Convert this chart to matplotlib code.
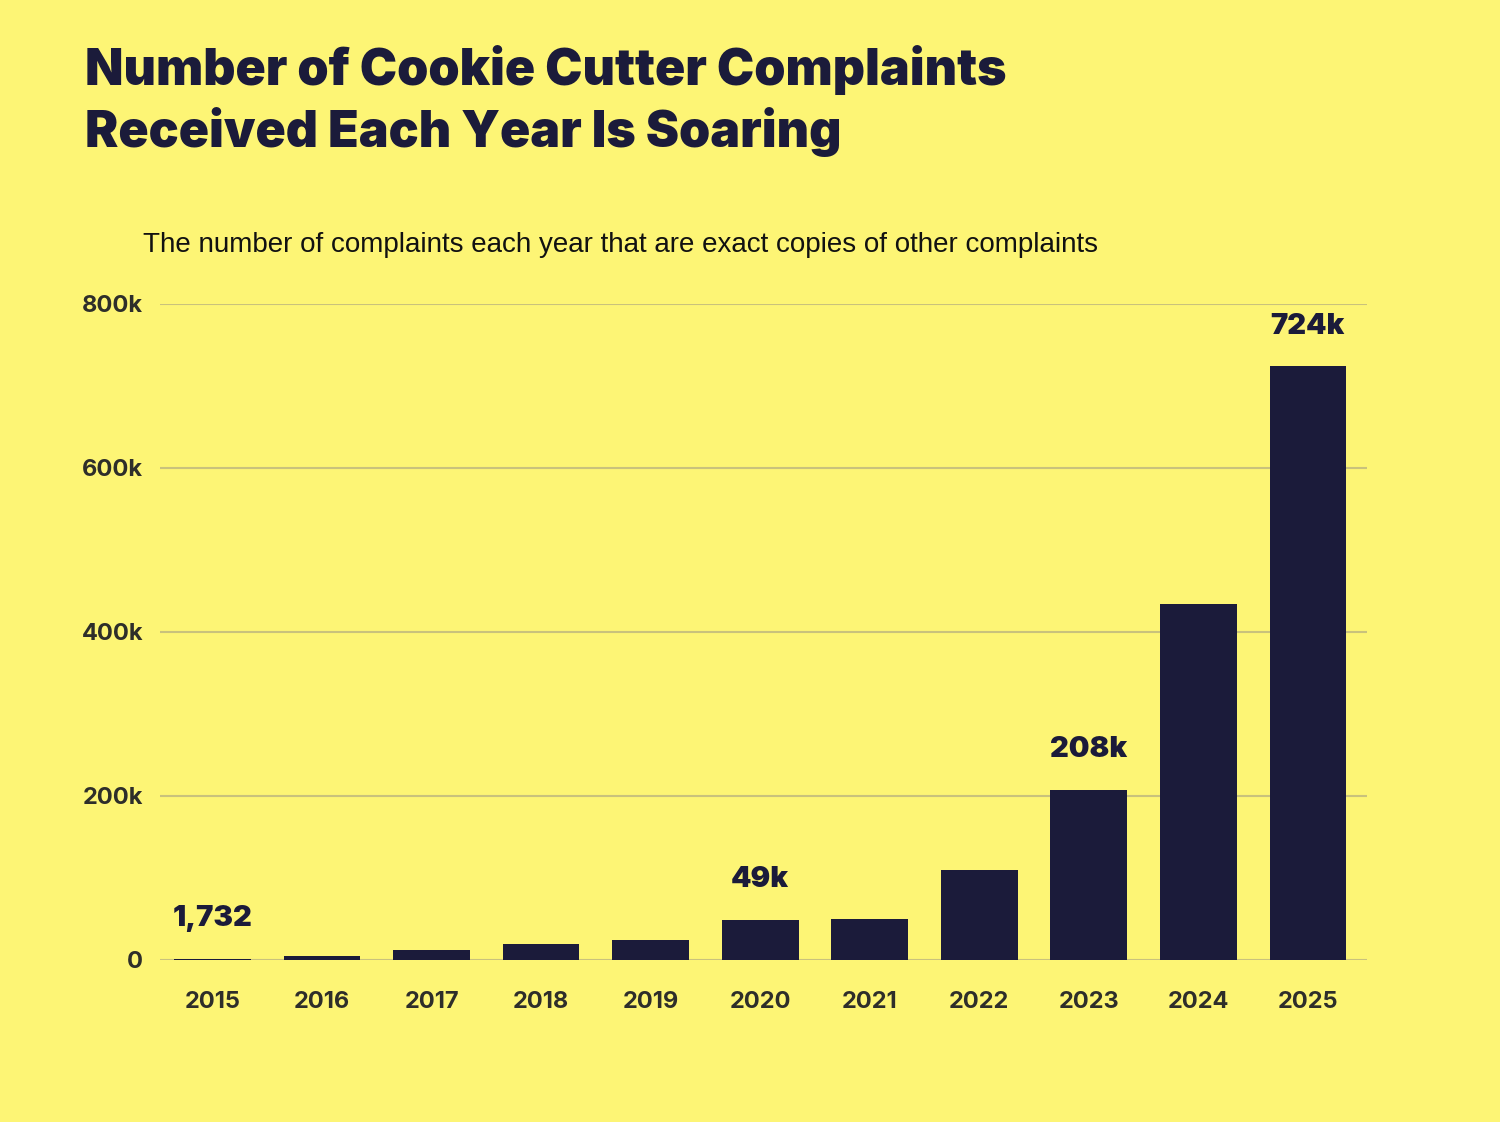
import matplotlib
matplotlib.use("Agg")
import matplotlib.pyplot as plt
from matplotlib.ticker import FuncFormatter

years = ["2015", "2016", "2017", "2018", "2019", "2020", "2021", "2022", "2023", "2024", "2025"]
complaints = [1732, 5000, 12000, 20000, 25000, 49000, 50000, 110000, 207500, 434000, 724000]
labelled = {0: "1,732", 5: "49k", 8: "208k", 10: "724k"}
y_ticks = [0, 200000, 400000, 600000, 800000]

BG = "#FDF575"
BAR = "#1B1B3A"
GRID = "#C9C27C"
TXT = "#2E2E2A"

plt.rcParams['font.family'] = ['Inter', 'DejaVu Sans']

fig = plt.figure(figsize=(15, 11.22), dpi=100, facecolor=BG)
ax = fig.add_axes([160/1500, 1-960/1122, (1367-160)/1500, (960-304)/1122])
ax.set_facecolor(BG)

x = list(range(len(years)))
ax.bar(x, complaints, width=0.70, color=BAR, zorder=3)

ax.set_xlim(-0.48, 10.54)
ax.set_ylim(0, 800000)
ax.set_yticks(y_ticks)
ax.yaxis.set_major_formatter(FuncFormatter(lambda v, p: "0" if v == 0 else f"{int(v/1000)}k"))
ax.set_xticks(x)
ax.set_xticklabels(years)
ax.grid(axis='y', color=GRID, linewidth=1.5, zorder=0)
ax.tick_params(axis='both', length=0, labelsize=17, colors=TXT)
ax.tick_params(axis='x', pad=22)
ax.tick_params(axis='y', pad=12)
for lab in ax.get_xticklabels() + ax.get_yticklabels():
    lab.set_fontweight('bold')
for s in ax.spines.values():
    s.set_visible(False)

for i, txt in labelled.items():
    ax.annotate(txt, (i, complaints[i]), xytext=(0, 19), textcoords='offset points',
                ha='center', va='bottom', fontsize=21, fontweight='black', color=BAR)

fig.text(85/1500, 1-70/1122, "Number of Cookie Cutter Complaints", fontsize=36,
         fontweight='black', color=BAR, va='center', ha='left')
fig.text(85/1500, 1-132/1122, "Received Each Year Is Soaring", fontsize=36,
         fontweight='black', color=BAR, va='center', ha='left')
fig.text(143/1500, 1-245/1122, "The number of complaints each year that are exact copies of other complaints",
         fontsize=20, color="#111111", va='center', ha='left', family=['Liberation Sans', 'DejaVu Sans'])

fig.savefig("out.png", dpi=100, facecolor=BG)
